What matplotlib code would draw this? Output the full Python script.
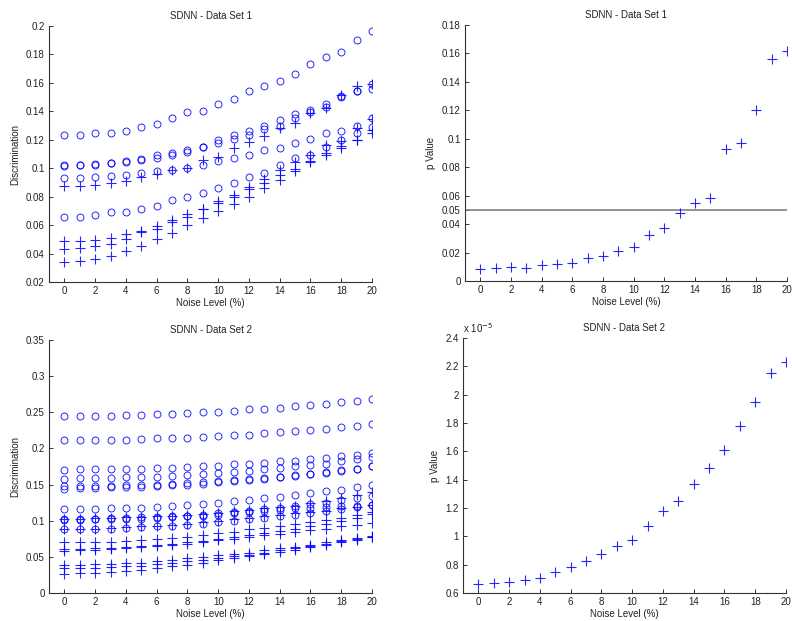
import numpy as np
import matplotlib
matplotlib.use("Agg")
import matplotlib.pyplot as plt
from matplotlib.ticker import FuncFormatter

plt.rcParams['font.family'] = ['Liberation Sans', 'DejaVu Sans']
plt.rcParams['font.size'] = 7

noise = np.arange(0, 21)

# Data Set 1 - discrimination, circle series
ds1_circ = [
    [0.1235, 0.1235, 0.125, 0.125, 0.1265, 0.129, 0.131, 0.1355, 0.1395, 0.140, 0.145,
     0.149, 0.1545, 0.158, 0.161, 0.166, 0.1735, 0.178, 0.182, 0.190, 0.1965],
    [0.1025, 0.1025, 0.103, 0.104, 0.105, 0.1065, 0.109, 0.111, 0.113, 0.115, 0.1195,
     0.1235, 0.126, 0.1295, 0.134, 0.138, 0.141, 0.145, 0.1505, 0.1545, 0.159],
    [0.1015, 0.102, 0.1025, 0.1035, 0.1045, 0.106, 0.1075, 0.109, 0.1115, 0.115, 0.118,
     0.1205, 0.1235, 0.1275, 0.130, 0.1355, 0.1395, 0.143, 0.150, 0.154, 0.1555],
    [0.093, 0.093, 0.0935, 0.0945, 0.095, 0.0965, 0.098, 0.099, 0.1005, 0.102, 0.105,
     0.107, 0.109, 0.113, 0.1145, 0.118, 0.1205, 0.1245, 0.1265, 0.1295, 0.135],
    [0.066, 0.066, 0.067, 0.069, 0.069, 0.0715, 0.0735, 0.0775, 0.0795, 0.0825, 0.086,
     0.0895, 0.094, 0.0965, 0.102, 0.107, 0.1095, 0.115, 0.1195, 0.125, 0.129],
]
# Data Set 1 - discrimination, plus series
ds1_plus = [
    [0.0875, 0.0875, 0.088, 0.0895, 0.091, 0.094, 0.096, 0.099, 0.1005, 0.106, 0.108,
     0.1145, 0.1185, 0.1225, 0.128, 0.1315, 0.1385, 0.1425, 0.1515, 0.158, 0.159],
    [0.0485, 0.0485, 0.0495, 0.051, 0.054, 0.056, 0.0595, 0.0635, 0.0675, 0.0715, 0.077,
     0.0815, 0.087, 0.0925, 0.0985, 0.1045, 0.1095, 0.1165, 0.119, 0.128, 0.1345],
    [0.0435, 0.044, 0.045, 0.047, 0.050, 0.055, 0.057, 0.0625, 0.066, 0.071, 0.0755,
     0.080, 0.0855, 0.0895, 0.095, 0.0995, 0.105, 0.1105, 0.1155, 0.1195, 0.127],
    [0.034, 0.0345, 0.036, 0.0385, 0.042, 0.045, 0.050, 0.0545, 0.060, 0.065, 0.070,
     0.075, 0.080, 0.086, 0.092, 0.098, 0.1045, 0.109, 0.1145, 0.1195, 0.1245],
]

# Data Set 1 - p values
ds1_p = [0.0087, 0.0089, 0.0096, 0.0089, 0.0110, 0.0122, 0.0129, 0.0159, 0.0173, 0.0211,
         0.0237, 0.0326, 0.0375, 0.0476, 0.0548, 0.0584, 0.0930, 0.0973, 0.1200, 0.1563, 0.1617]

# Data Set 2 - discrimination, circle series
ds2_circ = [
    [0.245, 0.245, 0.245, 0.245, 0.246, 0.246, 0.247, 0.248, 0.249, 0.250, 0.251,
     0.252, 0.254, 0.255, 0.256, 0.258, 0.260, 0.262, 0.264, 0.266, 0.268],
    [0.211, 0.212, 0.212, 0.212, 0.212, 0.213, 0.214, 0.214, 0.215, 0.216, 0.217,
     0.219, 0.219, 0.221, 0.223, 0.224, 0.226, 0.227, 0.229, 0.231, 0.234],
    [0.170, 0.171, 0.171, 0.171, 0.171, 0.172, 0.173, 0.173, 0.174, 0.175, 0.176,
     0.178, 0.179, 0.180, 0.182, 0.183, 0.185, 0.187, 0.189, 0.191, 0.194],
    [0.158, 0.159, 0.159, 0.159, 0.160, 0.160, 0.161, 0.162, 0.163, 0.165, 0.166,
     0.168, 0.169, 0.171, 0.173, 0.175, 0.177, 0.179, 0.182, 0.185, 0.188],
    [0.148, 0.148, 0.148, 0.148, 0.149, 0.149, 0.150, 0.151, 0.152, 0.153, 0.155,
     0.156, 0.158, 0.159, 0.161, 0.163, 0.165, 0.167, 0.170, 0.172, 0.176],
    [0.144, 0.145, 0.145, 0.146, 0.146, 0.147, 0.148, 0.149, 0.150, 0.151, 0.153,
     0.155, 0.157, 0.158, 0.160, 0.162, 0.164, 0.166, 0.169, 0.171, 0.175],
    [0.1165, 0.1165, 0.1165, 0.117, 0.117, 0.118, 0.119, 0.120, 0.122, 0.123, 0.125,
     0.127, 0.129, 0.131, 0.133, 0.136, 0.138, 0.141, 0.143, 0.147, 0.150],
    [0.103, 0.103, 0.103, 0.104, 0.104, 0.105, 0.105, 0.106, 0.107, 0.108, 0.110,
     0.112, 0.114, 0.116, 0.118, 0.120, 0.123, 0.125, 0.128, 0.131, 0.134],
    [0.101, 0.101, 0.102, 0.102, 0.102, 0.103, 0.104, 0.105, 0.106, 0.107, 0.108,
     0.110, 0.112, 0.113, 0.115, 0.117, 0.118, 0.119, 0.120, 0.121, 0.122],
    [0.0885, 0.0885, 0.089, 0.089, 0.090, 0.091, 0.092, 0.093, 0.094, 0.096, 0.098,
     0.100, 0.102, 0.104, 0.106, 0.108, 0.110, 0.113, 0.116, 0.119, 0.122],
]
# Data Set 2 - discrimination, plus series
ds2_plus = [
    [0.103, 0.103, 0.104, 0.104, 0.105, 0.105, 0.106, 0.107, 0.108, 0.109, 0.111,
     0.113, 0.115, 0.117, 0.119, 0.121, 0.124, 0.127, 0.131, 0.136, 0.140],
    [0.0885, 0.089, 0.089, 0.090, 0.091, 0.092, 0.093, 0.094, 0.096, 0.098, 0.100,
     0.102, 0.104, 0.106, 0.108, 0.110, 0.112, 0.114, 0.117, 0.119, 0.122],
    [0.070, 0.070, 0.071, 0.071, 0.072, 0.073, 0.075, 0.076, 0.078, 0.080, 0.083,
     0.085, 0.088, 0.090, 0.093, 0.095, 0.098, 0.101, 0.104, 0.108, 0.112],
    [0.061, 0.061, 0.062, 0.062, 0.063, 0.065, 0.066, 0.068, 0.070, 0.072, 0.075,
     0.077, 0.080, 0.083, 0.086, 0.089, 0.092, 0.095, 0.099, 0.104, 0.109],
    [0.0585, 0.059, 0.060, 0.061, 0.062, 0.063, 0.065, 0.066, 0.068, 0.070, 0.073,
     0.075, 0.078, 0.080, 0.082, 0.085, 0.087, 0.089, 0.092, 0.094, 0.097],
    [0.0385, 0.039, 0.040, 0.040, 0.041, 0.042, 0.044, 0.046, 0.048, 0.050, 0.052,
     0.054, 0.056, 0.059, 0.062, 0.064, 0.067, 0.070, 0.073, 0.076, 0.079],
    [0.034, 0.034, 0.035, 0.036, 0.037, 0.038, 0.040, 0.042, 0.044, 0.046, 0.048,
     0.051, 0.053, 0.056, 0.059, 0.062, 0.065, 0.068, 0.072, 0.075, 0.078],
    [0.026, 0.027, 0.027, 0.029, 0.030, 0.032, 0.035, 0.037, 0.039, 0.042, 0.045,
     0.048, 0.051, 0.054, 0.057, 0.060, 0.064, 0.067, 0.070, 0.074, 0.077],
]

# Data Set 2 - p values (x 1e-5)
ds2_p = [0.666, 0.671, 0.675, 0.692, 0.708, 0.746, 0.781, 0.826, 0.875, 0.932, 0.976,
         1.075, 1.176, 1.249, 1.367, 1.485, 1.609, 1.776, 1.946, 2.151, 2.231]

fig = plt.figure(figsize=(7.92, 6.21), dpi=100)
ax1 = fig.add_axes([0.0619, 0.5459, 0.4078, 0.4122])
ax2 = fig.add_axes([0.5871, 0.5475, 0.4066, 0.4122])
ax3 = fig.add_axes([0.0619, 0.0451, 0.4078, 0.4074])
ax4 = fig.add_axes([0.5846, 0.0451, 0.4078, 0.4106])

blue = '#0000ff'
circ_kw = dict(linestyle='none', marker='o', markersize=5, markerfacecolor='none',
               markeredgecolor=blue, markeredgewidth=0.7, alpha=0.85)
plus_kw = dict(linestyle='none', marker='+', markersize=6.5, color=blue,
               markeredgewidth=0.8, alpha=0.85)

for s in ds1_circ:
    ax1.plot(noise, s, **circ_kw)
for s in ds1_plus:
    ax1.plot(noise, s, **plus_kw)

ax2.axhline(0.05, color='#808080', linewidth=1.2)
ax2.plot(noise, ds1_p, **plus_kw)

for s in ds2_circ:
    ax3.plot(noise, s, **circ_kw)
for s in ds2_plus:
    ax3.plot(noise, s, **plus_kw)

ax4.plot(noise, ds2_p, **plus_kw)

fmt = FuncFormatter(lambda v, p: '%g' % round(v, 6))

for ax in (ax1, ax2, ax3, ax4):
    ax.set_xlim(-1, 20)
    ax.set_xticks(np.arange(0, 21, 2))
    ax.spines['top'].set_visible(False)
    ax.spines['right'].set_visible(False)
    for sp in ('left', 'bottom'):
        ax.spines[sp].set_color('#333333')
        ax.spines[sp].set_linewidth(0.8)
    ax.tick_params(direction='in', length=3, width=0.7, labelsize=7,
                   colors='#333333', labelcolor='#222222', pad=3)
    ax.xaxis.set_major_formatter(fmt)
    ax.yaxis.set_major_formatter(fmt)
    ax.set_xlabel('Noise Level (%)', fontsize=7, color='#222222', labelpad=1)

ax1.set_ylim(0.02, 0.2)
ax1.set_yticks(np.arange(0.02, 0.2001, 0.02))
ax1.set_ylabel('Discrimination', fontsize=7, color='#222222', labelpad=4)
ax1.set_title('SDNN - Data Set 1', fontsize=7, color='#222222', pad=5)

ax2.set_ylim(0, 0.18)
ax2.set_yticks([0, 0.02, 0.04, 0.05, 0.06, 0.08, 0.1, 0.12, 0.14, 0.16, 0.18])
ax2.set_ylabel('p Value', fontsize=7, color='#222222', labelpad=4)
ax2.set_title('SDNN - Data Set 1', fontsize=7, color='#222222', pad=5)

ax3.set_ylim(0, 0.35)
ax3.set_yticks(np.arange(0, 0.3501, 0.05))
ax3.set_ylabel('Discrimination', fontsize=7, color='#222222', labelpad=4)
ax3.set_title('SDNN - Data Set 2', fontsize=7, color='#222222', pad=5)

ax4.set_ylim(0.6, 2.4)
ax4.set_yticks(np.arange(0.6, 2.4001, 0.2))
ax4.set_ylabel('p Value', fontsize=7, color='#222222', labelpad=4)
ax4.set_title('SDNN - Data Set 2', fontsize=7, color='#222222', pad=5)
ax4.text(0.0, 1.01, r'x 10$^{-5}$', transform=ax4.transAxes, fontsize=7,
         color='#222222', ha='left', va='bottom')

fig.savefig('out.png', dpi=100)
